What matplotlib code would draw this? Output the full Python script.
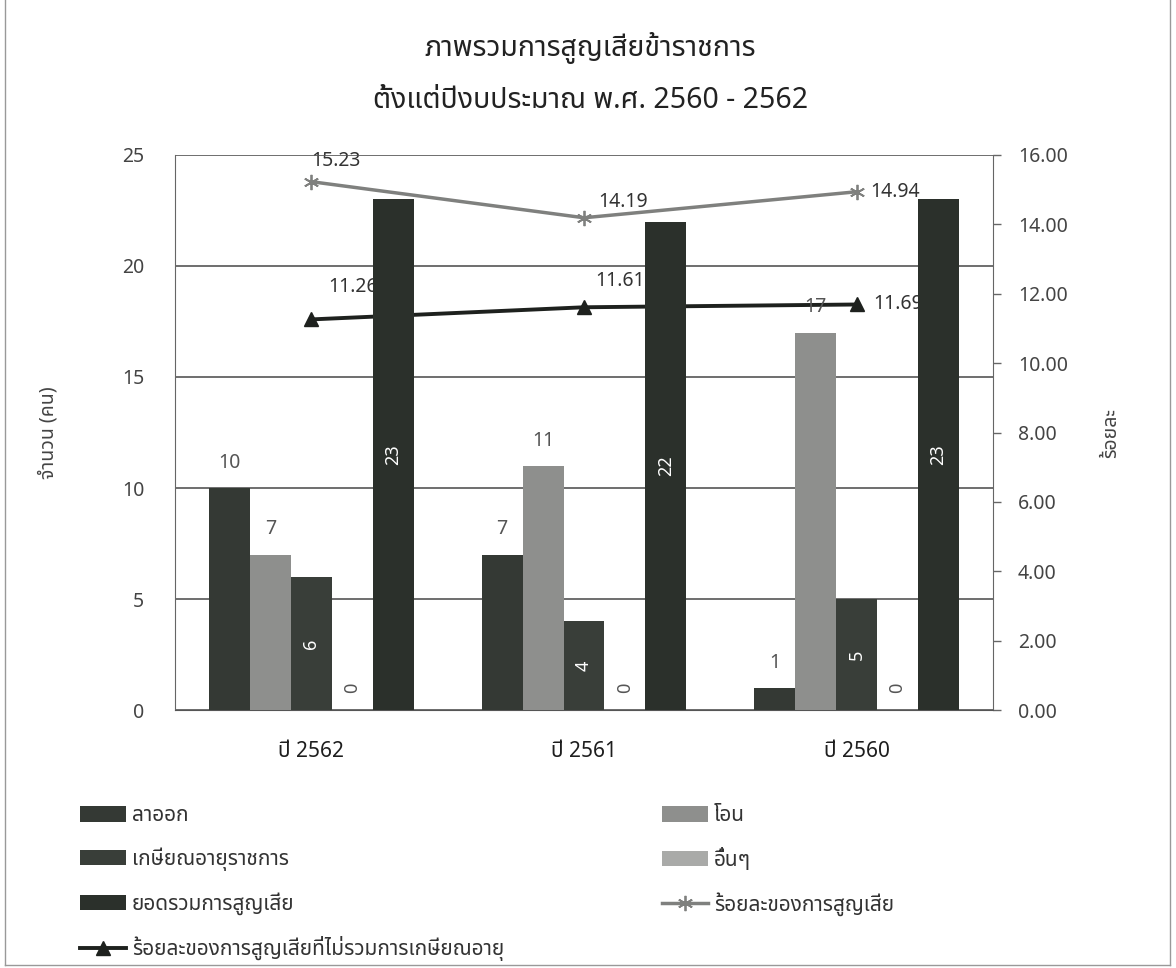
import matplotlib
matplotlib.use("Agg")
import matplotlib.pyplot as plt
import numpy as np
from matplotlib import font_manager
from matplotlib.lines import Line2D
from fontTools.ttLib import TTFont


# หา font ที่มีอักษรไทย
def find_thai_family():
    preferred = ["Noto Sans Thai", "Noto Sans Thai Looped", "Sarabun", "Loma",
                 "Garuda", "Norasi", "Kinnari", "Waree", "Umpush"]
    found = []
    for f in font_manager.fontManager.ttflist:
        try:
            font = TTFont(f.fname, fontNumber=0, lazy=True)
            cmap = font.getBestCmap() or {}
            if 0x0E01 in cmap:
                found.append(f.name)
        except Exception:
            continue
    for name in preferred:
        if name in found:
            return name
    return found[0] if found else None


thai = find_thai_family()
families = ([thai] if thai else []) + ["DejaVu Sans"]
plt.rcParams['font.family'] = families

years = ["ปี 2562", "ปี 2561", "ปี 2560"]
series_names = ["ลาออก", "โอน", "เกษียณอายุราชการ", "อื่นๆ", "ยอดรวมการสูญเสีย"]
resign = [10, 7, 1]
transfer = [7, 11, 17]
retire = [6, 4, 5]
other = [0, 0, 0]
total = [23, 22, 23]
pct_loss = [15.23, 14.19, 14.94]
pct_loss_no_retire = [11.26, 11.61, 11.69]
pct_names = ["ร้อยละของการสูญเสีย", "ร้อยละของการสูญเสียที่ไม่รวมการเกษียณอายุ"]

bar_colors = ["#343934", "#8e8f8d", "#393e39", "#a9aaa8", "#2b302b"]

fig = plt.figure(figsize=(11.76, 9.68), dpi=100)
ax = fig.add_axes([0.1488, 0.2665, 0.6956, 0.5734])
ax2 = ax.twinx()
# แท่งอยู่ด้านหน้าเส้น
ax.set_zorder(ax2.get_zorder() + 1)
ax.patch.set_visible(False)

x = np.arange(len(years))
w = 0.15
values = [resign, transfer, retire, other, total]
bars = []
for i, (vals, c) in enumerate(zip(values, bar_colors)):
    b = ax.bar(x + (i - 2) * w, vals, w, color=c, zorder=3)
    bars.append(b)

# ตัวเลขบนแท่ง
for i in (0, 1):
    for rect, v in zip(bars[i], values[i]):
        ax.annotate(str(v), (rect.get_x() + rect.get_width() / 2, v),
                    xytext=(0, 11), textcoords="offset points",
                    ha="center", va="bottom", fontsize=14, color="#555555")
for rect, v in zip(bars[2], values[2]):
    ax.text(rect.get_x() + rect.get_width() / 2, v / 2, str(v), rotation=90,
            ha="center", va="center", fontsize=13, color="white", zorder=4)
for rect, v in zip(bars[3], values[3]):
    ax.annotate(str(v), (rect.get_x() + rect.get_width() / 2, v),
                xytext=(0, 16), textcoords="offset points", rotation=90,
                ha="center", va="center", fontsize=13, color="#555555")
for rect, v in zip(bars[4], values[4]):
    ax.text(rect.get_x() + rect.get_width() / 2, v / 2, str(v), rotation=90,
            ha="center", va="center", fontsize=13, color="white",
            fontweight="bold", zorder=4)

ax.set_xlim(-0.5, 2.5)
ax.set_ylim(0, 25)
ax.set_yticks(range(0, 26, 5))
ax.grid(axis="y", color="#555555", lw=1.2)
ax.set_axisbelow(True)
ax.set_xticks(x)
ax.set_xticklabels(years, fontsize=15, color="#1e1e1e", fontweight="medium")
ax.tick_params(axis="x", length=0, pad=22)
ax.tick_params(axis="y", length=0, pad=22, labelsize=14, labelcolor="#444444")
for s in ("top", "right"):
    ax.spines[s].set_visible(False)
ax.spines["left"].set_color("#666666")
ax.spines["bottom"].set_color("#555555")
ax.set_ylabel("จำนวน (คน)", fontsize=14, color="#444444", labelpad=46)

# เส้นร้อยละ (แกนขวา)
ax2.plot(x, pct_loss, color="#7f807e", lw=2.5, marker=(6, 2, 0), ms=11,
         mew=1.3, label=pct_names[0])
ax2.plot(x, pct_loss_no_retire, color="#1e211e", lw=2.8, marker="^", ms=10,
         label=pct_names[1])
offs1 = [(0, 8, "left", "bottom"), (10, 4, "left", "bottom"), (10, 0, "left", "center")]
offs2 = [(12, 16, "left", "bottom"), (8, 12, "left", "bottom"), (12, 0, "left", "center")]
for xi, v, (dx, dy, ha, va) in zip(x, pct_loss, offs1):
    ax2.annotate(f"{v:.2f}", (xi, v), xytext=(dx, dy), textcoords="offset points",
                 ha=ha, va=va, fontsize=14, color="#333333")
for xi, v, (dx, dy, ha, va) in zip(x, pct_loss_no_retire, offs2):
    ax2.annotate(f"{v:.2f}", (xi, v), xytext=(dx, dy), textcoords="offset points",
                 ha=ha, va=va, fontsize=14, color="#333333")
ax2.set_ylim(0, 16)
ax2.set_yticks(np.arange(0, 17, 2))
ax2.set_yticklabels([f"{t:.2f}" for t in np.arange(0, 17, 2)])
ax2.tick_params(axis="y", length=6, width=1, color="#666666", pad=12,
                labelsize=14, labelcolor="#444444")
for s in ("top", "left", "bottom"):
    ax2.spines[s].set_visible(False)
ax2.spines["right"].set_color("#666666")
ax2.set_ylabel("ร้อยละ", fontsize=14, color="#444444", labelpad=24)

fig.text(0.502, 0.950, "ภาพรวมการสูญเสียข้าราชการ", ha="center", va="center",
         fontsize=20.5, color="#222222")
fig.text(0.502, 0.896, "ตั้งแต่ปีงบประมาณ พ.ศ. 2560 - 2562", ha="center",
         va="center", fontsize=20.5, color="#222222")

# คำอธิบายสัญลักษณ์ สองคอลัมน์
line_handles = ax2.get_lines()
leg_kw = dict(frameon=False, fontsize=15, handlelength=2.2, handleheight=0.75,
              handletextpad=0.3, labelspacing=1.02, labelcolor="#333333",
              borderaxespad=0, borderpad=0)
fig.legend([bars[0], bars[2], bars[4], line_handles[1]],
           [series_names[0], series_names[2], series_names[4], pct_names[1]],
           loc="upper left", bbox_to_anchor=(0.068, 0.168), **leg_kw)
fig.legend([bars[1], bars[3], line_handles[0]],
           [series_names[1], series_names[3], pct_names[0]],
           loc="upper left", bbox_to_anchor=(0.563, 0.168), **leg_kw)

# กรอบรอบรูป
for xs, ys in (([0.004, 0.004], [0.003, 1]), ([0.995, 0.995], [0.003, 1]),
               ([0.004, 0.995], [0.003, 0.003])):
    fig.add_artist(Line2D(xs, ys, color="#999999", lw=1, transform=fig.transFigure))

fig.savefig("out.png", dpi=100, facecolor="white")
